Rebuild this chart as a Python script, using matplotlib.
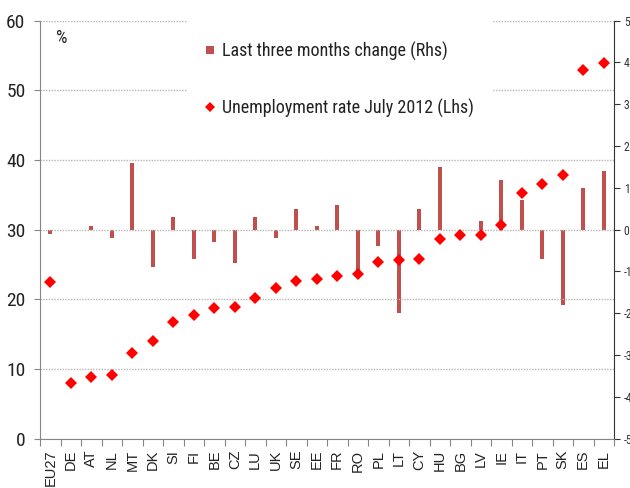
import matplotlib
matplotlib.use("Agg")
import matplotlib.pyplot as plt
from matplotlib.lines import Line2D
from matplotlib.patches import Rectangle
import numpy as np

countries = ["EU27", "DE", "AT", "NL", "MT", "DK", "SI", "FI", "BE", "CZ", "LU", "UK",
             "SE", "EE", "FR", "RO", "PL", "LT", "CY", "HU", "BG", "LV", "IE", "IT",
             "PT", "SK", "ES", "EL"]
unemployment = [22.5, 8.0, 8.9, 9.2, 12.3, 14.0, 16.8, 17.8, 18.7, 18.9, 20.2, 21.7,
                22.6, 22.9, 23.4, 23.6, 25.4, 25.6, 25.8, 28.6, 29.3, 29.3, 30.7, 35.3,
                36.5, 37.8, 52.9, 53.9]
change_3m = [-0.1, 0.0, 0.1, -0.2, 1.6, -0.9, 0.3, -0.7, -0.3, -0.8, 0.3, -0.2,
             0.5, 0.1, 0.6, -1.0, -0.4, -2.0, 0.5, 1.5, 0.0, 0.2, 1.2, 0.7,
             -0.7, -1.8, 1.0, 1.4]
left_ticks = [0, 10, 20, 30, 40, 50, 60]
right_ticks = [-5, -4, -3, -2, -1, 0, 1, 2, 3, 4, 5]

NARROW = ["Roboto Condensed", "DejaVu Sans"]
REG = ["Liberation Sans", "DejaVu Sans"]
BAR_C = "#C0504D"
DOT_C = "#FF0000"
GRAY = "#868686"

fig = plt.figure(figsize=(6.3, 4.88), dpi=100)
ax1 = fig.add_axes([40/630, 1-438.7/488, 574/630, 418/488])
ax2 = ax1.twinx()
ax1.set_zorder(ax2.get_zorder() + 1)
ax1.patch.set_visible(False)

x = np.arange(len(countries))

# bars on right axis
ax2.bar(x, change_3m, width=0.2, color=BAR_C, zorder=2)
ax2.set_ylim(-5, 5)
ax2.set_yticks(right_ticks)
ax2.set_yticklabels([str(t) for t in right_ticks], family=NARROW, fontsize=8.5, color="#333333")
ax2.tick_params(axis="y", direction="out", length=4, width=0.8, color="#333333", pad=3)

# diamonds on left axis
ax1.plot(x, unemployment, linestyle="none", marker="D", markersize=6.5,
         color=DOT_C, markeredgewidth=0, zorder=3)
ax1.set_ylim(0, 60)
ax1.set_xlim(-0.5, len(countries) - 0.5)
ax1.set_yticks(left_ticks)
ax1.set_yticklabels([str(t) for t in left_ticks], family=NARROW, fontsize=14, color="#222222")
ax1.tick_params(axis="y", direction="out", length=4, width=0.8, color=GRAY, pad=6.5)
ax1.yaxis.grid(True, color="#B5B5B5", linestyle=(0, (1, 1)), linewidth=1.0)
ax1.set_axisbelow(True)

ax1.set_xticks(x)
ax1.set_xticklabels(countries, rotation=90, family=REG, fontsize=10.5, color="#222222")
ax1.tick_params(axis="x", which="major", length=0, pad=8)
ax1.set_xticks(np.arange(len(countries) + 1) - 0.5, minor=True)
ax1.tick_params(axis="x", which="minor", direction="out", length=5, width=0.8, color=GRAY)

for ax in (ax1, ax2):
    ax.spines["top"].set_visible(False)
ax1.spines["left"].set_color(GRAY)
ax1.spines["bottom"].set_color(GRAY)
ax1.spines["right"].set_visible(False)
ax2.spines["left"].set_visible(False)
ax2.spines["bottom"].set_visible(False)
ax2.spines["right"].set_color("#333333")

# white legend area covering gridlines
trans = ax1.transAxes
rx0 = (187 - 40) / 574
rx1 = (492 - 40) / 574
ry0 = (438.7 - 130) / 418
ry1 = (438.7 - 12) / 418
ax1.add_patch(Rectangle((rx0, ry0), rx1 - rx0, ry1 - ry0, transform=trans,
                        facecolor="white", edgecolor="none", zorder=1, clip_on=False))

handles = [
    Line2D([], [], linestyle="none", marker="s", markersize=6, color=BAR_C, markeredgewidth=0),
    Line2D([], [], linestyle="none", marker="D", markersize=5.5, color=DOT_C, markeredgewidth=0),
]
labels = ["Last three months change (Rhs)", "Unemployment rate July 2012 (Lhs)"]
leg = ax1.legend(handles, labels, loc="upper left",
                 bbox_to_anchor=((203.7 - 40) / 574, (438.7 - 41.5) / 418),
                 frameon=False, borderpad=0, borderaxespad=0, handlelength=0.7,
                 handletextpad=0.3, labelspacing=2.1,
                 prop={"family": NARROW, "size": 13})
for t in leg.get_texts():
    t.set_color("#222222")
leg.set_zorder(5)

ax1.text((62 - 40) / 574, (438.7 - 38) / 418, "%", transform=trans, family=NARROW,
         fontsize=13, color="#222222", ha="center", va="center")

fig.savefig("out.png", dpi=100)
